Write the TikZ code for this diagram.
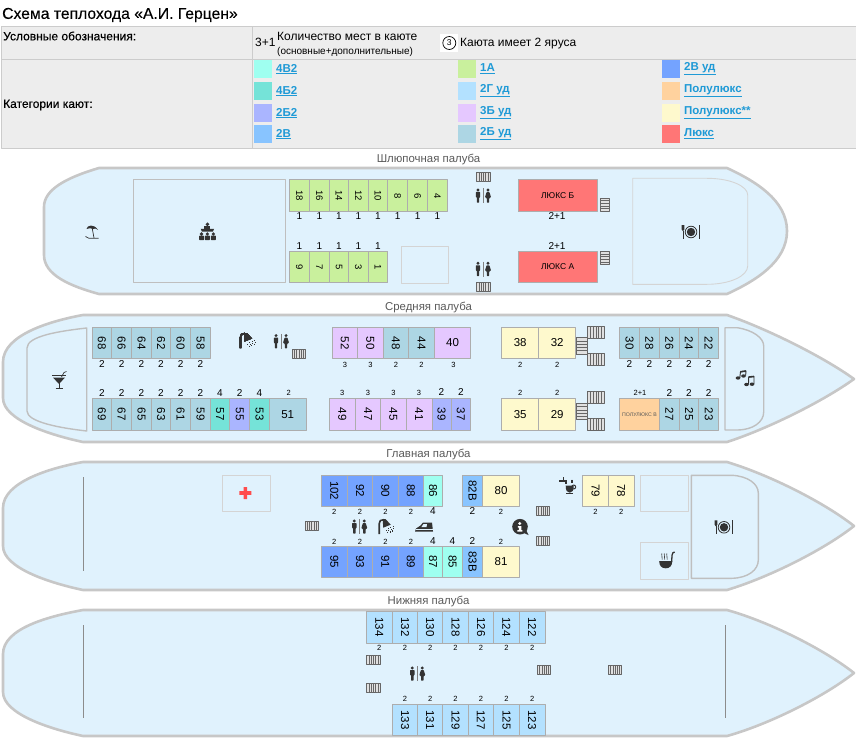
\documentclass[tikz,border=0pt]{standalone}
\usepackage{fontspec}
\setmainfont{Liberation Sans}
\newfontfamily\medfont[FakeBold=0.3]{Liberation Sans}
\definecolor{katFourV}{HTML}{9FFFF0}
\definecolor{katFourB}{HTML}{75E3D8}
\definecolor{katTwoBb}{HTML}{AAB5FF}
\definecolor{katTwoV}{HTML}{88C4FF}
\definecolor{katOneA}{HTML}{C9F09D}
\definecolor{katTwoG}{HTML}{B3E1FF}
\definecolor{katThreeB}{HTML}{E5C8FF}
\definecolor{katTwoB}{HTML}{ADD6E4}
\definecolor{katTwoVu}{HTML}{74A3FF}
\definecolor{katPoly}{HTML}{FFD29E}
\definecolor{katPolyx}{HTML}{FEF9CD}
\definecolor{katLux}{HTML}{FF7676}
\definecolor{deckfill}{HTML}{E0F2FD}
\definecolor{icongray}{HTML}{333333}
\definecolor{linkblue}{HTML}{1F9AD6}
\tikzset{
	hull/.style={draw=black!22,line width=2.6pt,fill=deckfill,line join=round},
	room/.style={draw=black!25,line width=1.4pt,fill=deckfill},
	roomthin/.style={draw=black!17,line width=.9pt},
	cab/.style={draw=black!32,line width=1pt},
	lab/.style={font=\fontsize{11.5}{12}\selectfont,inner sep=0pt},
	cnt/.style={font=\fontsize{10}{10}\selectfont,inner sep=0pt},
	cnts/.style={font=\fontsize{7.5}{8}\selectfont,inner sep=0pt},
	decktitle/.style={font=\fontsize{11.4}{12}\selectfont,text=black!65,inner sep=0pt},
	leg/.style={font=\fontsize{11.5}{12}\bfseries\selectfont,text=linkblue,anchor=west,inner sep=0pt},
	tabtext/.style={font=\fontsize{12}{12}\selectfont,anchor=west,inner sep=0pt},
	tabhead/.style={font=\fontsize{12}{12}\medfont\selectfont,anchor=west,inner sep=0pt},
	stair/.style={draw=black!60,line width=.5pt,fill=black!12},
	wcicon/.pic={
		\draw[black!50,line width=.7pt] (0,-7.5)--(0,7.5);
		\fill[icongray] (-5,-5.7) circle (1.6) (5,-5.7) circle (1.6);
		\fill[icongray,rounded corners=.6pt] (-7.2,-3.7)--(-2.8,-3.7)--(-2.8,1.5)--(-3.8,1.5)--(-3.8,7)--(-6.2,7)--(-6.2,1.5)--(-7.2,1.5)--cycle;
		\fill[icongray,rounded corners=.6pt] (3.6,-3.7)--(6.4,-3.7)--(8,1.5)--(6.2,2.5)--(6.2,7)--(3.8,7)--(3.8,2.5)--(2,1.5)--cycle;
	},
	plateicon/.pic={
		\draw[icongray,line width=.8pt,fill=deckfill] (0,0) circle (5.8);
		\fill[icongray] (0,0) circle (4.2);
		\draw[icongray,line width=1pt] (-8,-1)--(-8,7);
		\fill[icongray] (-9.3,-7)--(-6.7,-7)--(-6.7,-2.5)--(-8,-.8)--(-9.3,-2.5)--cycle;
		\draw[icongray,line width=1.2pt] (8.3,-7)--(8.3,7);
	},
	umbrellaicon/.pic={
		\fill[icongray] (-5.5,-3) .. controls (-5,-7) and (2,-8.5) .. (6,-2) -- (3.5,-3.5) -- (1,-3) -- (-2,-3.8) -- cycle;
		\draw[icongray,line width=.7pt] (0,-5)--(2,6);
		\draw[icongray,line width=.7pt] (-6.5,4.5)--(-3,6.3)--(6.5,6.3);
	},
	meeticon/.pic={
		\fill[icongray] (0,-7.7) circle (1.9);
		\fill[icongray] (-3,-5.7)--(3,-5.7)--(3,-3)--(-3,-3)--cycle;
		\fill[icongray] (-6.7,-3.2)--(6.7,-3.2)--(5.5,-.4)--(-5.5,-.4)--cycle;
		\foreach \px in {-5.9,0,5.9}{
			\fill[icongray] (\px,2) circle (1.8);
			\fill[icongray,rounded corners=.7pt] (\px-2.5,3.6) rectangle (\px+2.5,8.2);
		}
	},
	showericon/.pic={
		\draw[icongray,line width=1.6pt] (-7.5,7.5)--(-7.5,-3) .. controls (-7.5,-6) and (-6,-7) .. (-3,-7);
		\fill[icongray] (-4,-7.5)--(-1,-7.5)--(4,-2)--(-3.5,1)--cycle;
		\foreach \px/\py in {1/1.5,3.5/.3,6/-.7,-1/3,1.5/3,4/2,6.5/1.2,.5/5.5,3/4.7,5.5/3.7}
			\fill[icongray] (\px,\py) rectangle ++(1.1,1.1);
	},
	cocktailicon/.pic={
		\draw[icongray,line width=.7pt] (-7,-4.5)--(7,-4.5);
		\fill[icongray] (-6,-2.5)--(6,-2.5)--(.5,3.5)--(-.5,3.5)--cycle;
		\draw[icongray,line width=.9pt] (0,3)--(0,8) (-3.5,8.3)--(3.5,8.3);
		\draw[icongray,line width=.7pt] (2.5,-3)--(5,-7.5)--(7.5,-8.5);
	},
	musicicon/.pic={
		\fill[icongray] (-7,-1) ellipse (2.3 and 1.7) (-1.5,-3) ellipse (2.3 and 1.7);
		\draw[icongray,line width=.9pt] (-5.2,-1.3)--(-4.5,-7.3)--(1,-8)--(.6,-3.3);
		\draw[icongray,line width=1.6pt] (-4.5,-7.2)--(1,-8);
		\fill[icongray] (1.5,5.5) ellipse (2.3 and 1.7) (7,5.2) ellipse (2.3 and 1.7);
		\draw[icongray,line width=.9pt] (3.5,5)--(3.7,-2)--(9,-2.5)--(9,4.8);
		\draw[icongray,line width=1.6pt] (3.7,-2)--(9,-2.5);
	},
	ironicon/.pic={
		\fill[icongray] (-9,4.5)--(-8,1.5)--(-3.5,-1.5)--(-1,-4.5)--(8,-4.5)--(9,4.5)--cycle;
		\fill[deckfill] (-.5,-3)--(3,-3)--(2.5,0)--(-2.6,0)--cycle;
		\draw[deckfill,line width=.6pt] (-8.5,2.7)--(8.7,2.7);
	},
	infoicon/.pic={
		\fill[icongray] (0,0) circle (7.8);
		\fill[icongray] (3,6)--(8.5,8.3)--(6,3)--cycle;
		\fill[white] (-.3,-3.2) circle (1.6);
		\fill[white] (-2.2,-.7)--(1.3,-.7)--(1.3,3.5)--(2.4,3.5)--(2.4,5)--(-2.6,5)--(-2.6,3.5)--(-1.2,3.5)--(-1.2,.8)--(-2.2,.8)--cycle;
	},
	tapicon/.pic={
		\fill[icongray] (-8.7,-6.2) rectangle (-1,-4);
		\fill[icongray] (-5.2,-8.7) rectangle (-3.5,-4);
		\fill[icongray] (-3,-4) rectangle (-.6,-1.8);
		\fill[icongray] (-2,0) -- (6,0) .. controls (6,5) and (4.5,7) .. (2,7) .. controls (-.5,7) and (-2,5) .. (-2,0) -- cycle;
		\draw[icongray,line width=1pt] (6,1.3) circle (2);
		\fill[icongray] (-2,7.2) rectangle (5,8.3);
		\draw[icongray,line width=.6pt] (3.2,-6)--(3.2,-3) (5,-6)--(5,-3);
	},
	ladleicon/.pic={
		\fill[icongray] (-7.5,1) -- (5.5,1) .. controls (5.5,6) and (3,8.3) .. (-1,8.3) .. controls (-5,8.3) and (-7.5,6) .. (-7.5,1) -- cycle;
		\draw[icongray,line width=1.3pt] (4.9,2) .. controls (5.5,-3) and (4.5,-8) .. (8,-8);
		\draw[icongray,line width=.6pt] (-4.5,-.5) .. controls (-6,-3) and (-3.5,-4) .. (-5,-6.5)
			(-2,-.5) .. controls (-3.5,-3) and (-1,-4) .. (-2.5,-6.5)
			(.5,-.5) .. controls (-1,-3) and (1.5,-4) .. (0,-6.5);
	},
}
% клетка каюты
\newcommand{\cabin}[7]{\draw[cab,fill=#5] (#1,#2) rectangle (#3,#4) node[lab,midway,rotate=#7] (c#6) {#6};}
% решётка с вертикальными и лесенка с горизонтальными планками
\newcommand{\grating}[4]{
	\draw[stair] (#1,#2) rectangle (#3,#4);
	\foreach \i in {1,...,5}\draw[stair] ({#1+(#3-#1)*\i/6},#2)--({#1+(#3-#1)*\i/6},#4);
}
\newcommand{\ladder}[4]{
	\draw[stair] (#1,#2) rectangle (#3,#4);
	\foreach \i in {1,...,4}\draw[stair] (#1,{#2+(#4-#2)*\i/5})--(#3,{#2+(#4-#2)*\i/5});
}
\begin{document}
\begin{tikzpicture}[x=1pt,y=-1pt,line join=round]
	\useasboundingbox (0,0) rectangle (856,738);
	%==Заголовок и таблица
	\node[anchor=west,inner sep=0pt,font=\fontsize{15.7}{16}\medfont\selectfont] (title) at (2,15) {Схема теплохода «А.И. Герцен»};
	\draw[black!20,fill=black!7,line width=.9pt] (1,26.5) rectangle (857,148.5);
	\draw[black!20,line width=.9pt] (1,59.5)--(857,59.5) (252.5,26.5)--(252.5,148.5);
	\node[tabhead] (usl) at (3,36) {Условные обозначения:};
	\node[tabhead] (kat) at (3,105) {Категории кают:};
	\node[tabtext] (mest) at (255,42.5) {3+1};
	\node[tabtext] (kol) at (277,36) {Количество мест в каюте};
	\node[tabtext,font=\fontsize{10}{10}\selectfont] (osn) at (277,51.5) {(основные+дополнительные)};
	\fill[white] (440,34) rectangle (458,52);
	\node[draw,circle,line width=.7pt,minimum size=13pt,inner sep=0pt,font=\fontsize{8.5}{9}\selectfont] (yarus) at (449.3,43) {3};
	\node[tabtext] (yartxt) at (460,44) {Каюта имеет 2 яруса};
	\foreach \c/\t/\x/\y [count=\i] in {katFourV/4В2/254/60,katFourB/4Б2/254/82,katTwoBb/2Б2/254/104,katTwoV/2В/254/125,
		katOneA/1А/458/60,katTwoG/2Г уд/458/82,katThreeB/3Б уд/458/104,katTwoB/2Б уд/458/125,
		katTwoVu/2В уд/662/60,katPoly/Полулюкс/662/82,katPolyx/Полулюкс**/662/104,katLux/Люкс/662/125}{
		\fill[\c] (\x,\y) rectangle ++(18,18);
		\node[leg] (leg\i) at (\x+22,\y+9) {\underline{\t}};
	}
	%==Шлюпочная палуба
	\node[decktitle] (d1) at (428.5,159.3) {Шлюпочная палуба};
	\draw[hull] (99,168)--(727,168) .. controls (755,181) and (787,200) .. (787,231) .. controls (787,262) and (755,281) .. (727,294)
		--(99,294) .. controls (70,286) and (44,275) .. (44,255)--(44,207) .. controls (44,190) and (65,178) .. (99,168)--cycle;
	\draw[room] (133.5,179.5) rectangle (285.5,282.5);
	\draw[roomthin] (401.3,246.3) rectangle (448.3,283.7);
	\draw[roomthin] (632.7,178.3)--(707,178.3) .. controls (730,178.3) and (747.7,186) .. (747.7,195)--(747.7,266) .. controls (747.7,276) and (730,284.3) .. (707,284.3)--(632.7,284.3)--cycle;
	\begin{scope}[lab/.append style={font=\fontsize{9.5}{10}\selectfont}]
		\foreach \n/\a/\b in {18/289.3/309.3,16/309.3/329.3,14/329.3/348.7,12/348.7/368.3,10/368.3/387.7,8/387.7/407.7,6/407.7/427.7,4/427.7/447.3}{
			\cabin{\a}{180}{\b}{211.7}{katOneA}{\n}{-90}
			\node[cnt] (k\n) at ({(\a+\b)/2},216) {1};
		}
		\foreach \n/\a/\b in {9/289.3/309.3,7/309.3/329.3,5/329.3/348.7,3/348.7/368.3,1/368.3/387.7}{
			\cabin{\a}{251}{\b}{282.7}{katOneA}{\n}{-90}
			\node[cnt] (k\n) at ({(\a+\b)/2},245.7) {1};
		}
		\draw[cab,fill=katLux] (518,179.7) rectangle (597.3,211.7) node[lab,midway,font=\fontsize{8.5}{9}\selectfont] (luxb) {ЛЮКС Б};
		\draw[cab,fill=katLux] (518,251) rectangle (597.3,282.7) node[lab,midway,font=\fontsize{8.5}{9}\selectfont] (luxa) {ЛЮКС А};
	\end{scope}
	\node[cnt] (kb) at (557,216) {2+1};
	\node[cnt] (ka) at (557,245.7) {2+1};
	\grating{476.7}{172.7}{490}{181.3}
	\grating{476.7}{282.3}{490}{291}
	\ladder{600}{198}{609}{211.3}
	\ladder{600}{251.3}{609}{264.7}
	\pic at (483,195.7) {wcicon};
	\pic at (483,269) {wcicon};
	\pic at (691,232) {plateicon};
	\pic at (92,232) {umbrellaicon};
	\pic at (207.4,232) {meeticon};
	%==Средняя палуба
	\node[decktitle] (d2) at (428.5,307.3) {Средняя палуба};
	\draw[hull] (83,315)--(727,315) .. controls (770,330) and (825,358) .. (854,379) .. controls (825,400) and (770,428) .. (727,442)
		--(83,442) .. controls (50,435) and (3,420) .. (3,398)--(3,362) .. controls (3,335) and (50,321) .. (83,315)--cycle;
	\draw[room] (86.7,328) .. controls (60,331) and (27,336) .. (27,348)--(27,411) .. controls (27,422) and (60,428) .. (86.7,431)--cycle;
	\draw[room] (725,327.7)--(737,327.7) .. controls (753,330) and (763.7,338) .. (763.7,346)--(763.7,412) .. controls (763.7,422) and (753,430) .. (737,430)--(725,430)--cycle;
	\foreach \n/\a/\b in {68/92/111.7,66/111.7/131.7,64/131.7/151.3,62/151.3/170.7,60/170.7/190.7,58/190.7/210.3,
		30/619.7/639.3,28/639.3/659.3,26/659.3/679.3,24/679.3/698.7,22/698.7/718.7}{
		\cabin{\a}{327.3}{\b}{358.7}{katTwoB}{\n}{-90}
		\node[cnt] (k\n) at ({(\a+\b)/2},364) {2};
	}
	\foreach \n/\a/\b in {69/92/111.7,67/111.7/131.7,65/131.7/151.3,63/151.3/170.7,61/170.7/190.7,59/190.7/210.3,
		27/659.3/679.3,25/679.3/698.7,23/698.7/718.7}{
		\cabin{\a}{398.7}{\b}{430}{katTwoB}{\n}{-90}
		\node[cnt] (k\n) at ({(\a+\b)/2},392.7) {2};
	}
	\cabin{210.3}{398.7}{229.7}{430}{katFourB}{57}{-90}
	\cabin{229.7}{398.7}{249.7}{430}{katTwoBb}{55}{-90}
	\cabin{249.7}{398.7}{269.3}{430}{katFourB}{53}{-90}
	\cabin{269.3}{398.7}{306}{430}{katTwoB}{51}{0}
	\node[cnt] (k57) at (220,392.7) {4};
	\node[cnt] (k55) at (239.7,392.7) {2};
	\node[cnt] (k53) at (259.5,392.7) {4};
	\node[cnts] (k51) at (288.7,393.3) {2};
	\foreach \n/\a/\b in {52/332/357.7,50/357.7/383}{
		\cabin{\a}{327.3}{\b}{358.7}{katThreeB}{\n}{-90}
		\node[cnts] (k\n) at ({(\a+\b)/2},364.7) {3};
	}
	\foreach \n/\a/\b in {48/383/408.7,44/408.7/434.3}{
		\cabin{\a}{327.3}{\b}{358.7}{katTwoB}{\n}{-90}
		\node[cnts] (k\n) at ({(\a+\b)/2},364.7) {2};
	}
	\cabin{434.3}{327.3}{470.7}{358.7}{katThreeB}{40}{0}
	\node[cnts] (k40) at (453.5,364.7) {3};
	\foreach \n/\a/\b in {49/329.3/355.3,47/355.3/380.7,45/380.7/406,41/406/432}{
		\cabin{\a}{398.7}{\b}{430}{katThreeB}{\n}{-90}
		\node[cnts] (k\n) at ({(\a+\b)/2},393.3) {3};
	}
	\foreach \n/\a/\b in {39/432/451,37/451/470.7}{
		\cabin{\a}{398.7}{\b}{430}{katTwoBb}{\n}{-90}
		\node[cnt] (k\n) at ({(\a+\b)/2},392) {2};
	}
	\foreach \n/\a/\b in {38/501.7/538.7,32/538.7/575.7}{
		\cabin{\a}{327.3}{\b}{358.7}{katPolyx}{\n}{0}
		\node[cnts] (k\n) at ({(\a+\b)/2},364.7) {2};
	}
	\foreach \n/\a/\b in {35/501.7/538.7,29/538.7/575.7}{
		\cabin{\a}{398.7}{\b}{430}{katPolyx}{\n}{0}
		\node[cnts] (k\n) at ({(\a+\b)/2},393.3) {2};
	}
	\draw[cab,fill=katPoly] (619.7,398.7) rectangle (659.3,430) node[lab,midway,font=\fontsize{5.2}{6}\selectfont,text=black!65] (polyv) {ПОЛУЛЮКС В};
	\node[cnts] (kpv) at (640,393.3) {2+1};
	\grating{292}{349}{305.7}{358.3}
	\foreach \y in {326.7,353.3,391.3,418.3}\grating{587.3}{\y}{604.3}{\y+11.6}
	\foreach \y in {337.7,403.3}\ladder{576.3}{\y}{587.3}{\y+16.2}
	\pic at (248,340.5) {showericon};
	\pic at (281,341.3) {wcicon};
	\pic at (59,380) {cocktailicon};
	\pic at (745,379) {musicicon};
	%==Главная палуба
	\node[decktitle] (d3) at (428.5,454.3) {Главная палуба};
	\draw[hull] (83,462)--(727,462) .. controls (770,475) and (825,503) .. (854,526) .. controls (825,549) and (770,577) .. (727,590)
		--(83,590) .. controls (50,583) and (3,568) .. (3,546)--(3,508) .. controls (3,482) and (50,468) .. (83,462)--cycle;
	\draw[black!45,line width=1.4pt] (83.7,477.3)--(83.7,570.7);
	\draw[roomthin] (222.7,475.3) rectangle (270,511.7);
	\draw[roomthin] (640.3,475.3) rectangle (688.3,511.7);
	\draw[roomthin] (640.3,542.3) rectangle (688.3,579);
	\draw[room] (691.3,475.3)--(731.7,475.3) .. controls (748,476) and (758.3,484) .. (758.3,493)--(758.3,560) .. controls (758.3,570) and (748,578) .. (731.7,578.3)--(691.3,578.3)--cycle;
	\fill[red!70!white] (239.3,491.2) rectangle (251.3,494.8) (243.5,487) rectangle (247.1,499);
	\foreach \n/\a/\b in {102/321.3/347.3,92/347.3/372.7,90/372.7/398,88/398/423.7}{
		\cabin{\a}{475}{\b}{506.3}{katTwoVu}{\n}{-90}
		\node[cnts] (k\n) at ({(\a+\b)/2},511.7) {2};
	}
	\foreach \n/\a/\b in {95/321.3/347.3,93/347.3/372.7,91/372.7/398,89/398/423.7}{
		\cabin{\a}{546}{\b}{577.3}{katTwoVu}{\n}{-90}
		\node[cnts] (k\n) at ({(\a+\b)/2},541.7) {2};
	}
	\cabin{423.7}{475}{442.7}{506.3}{katFourV}{86}{-90}
	\node[cnt] (k86) at (433,511) {4};
	\cabin{423.7}{546}{442.7}{577.3}{katFourV}{87}{-90}
	\node[cnt] (k87) at (433,541) {4};
	\cabin{442.7}{546}{462.3}{577.3}{katFourV}{85}{-90}
	\node[cnt] (k85) at (452.5,541) {4};
	\cabin{462.3}{475}{482.7}{506.3}{katTwoV}{82В}{-90}
	\node[cnt] (k82) at (472.5,511) {2};
	\cabin{462.3}{546}{482.7}{577.3}{katTwoV}{83В}{-90}
	\node[cnt] (k83) at (472.5,541) {2};
	\cabin{482.7}{475}{519.3}{506.3}{katPolyx}{80}{0}
	\node[cnts] (k80) at (501,511.7) {2};
	\cabin{482.7}{546}{519.3}{577.3}{katPolyx}{81}{0}
	\node[cnts] (k81) at (501,541.7) {2};
	\foreach \n/\a/\b in {79/582.7/608.3,78/608.3/634}{
		\cabin{\a}{475}{\b}{506.3}{katPolyx}{\n}{-90}
		\node[cnts] (k\n) at ({(\a+\b)/2},511.7) {2};
	}
	\grating{305}{521}{318.3}{530.3}
	\grating{536.3}{506.7}{549.7}{515.7}
	\grating{536.3}{536.7}{549.7}{545.7}
	\pic at (359.3,526.7) {wcicon};
	\pic at (386.7,526.7) {showericon};
	\pic at (424,527) {ironicon};
	\pic at (520,526.7) {infoicon};
	\pic at (567.7,485.7) {tapicon};
	\pic at (666.7,560) {ladleicon};
	\pic at (724,527.3) {plateicon};
	%==Нижняя палуба
	\node[decktitle] (d4) at (428.5,601.3) {Нижняя палуба};
	\draw[hull] (83,610)--(727,610) .. controls (770,622) and (825,650) .. (854,673) .. controls (825,696) and (770,724) .. (727,736)
		--(83,736) .. controls (50,729) and (3,714) .. (3,692)--(3,654) .. controls (3,628) and (50,616) .. (83,610)--cycle;
	\draw[black!45,line width=1.4pt] (83.7,625)--(83.7,718.3);
	\draw[black!45,line width=1.4pt] (725.7,625)--(725.7,718.3);
	\foreach \n/\a/\b in {134/366.3/392.3,132/392.3/417.7,130/417.7/442.7,128/442.7/468.3,126/468.3/493.7,124/493.7/519.3,122/519.3/545}{
		\cabin{\a}{611.3}{\b}{643}{katTwoG}{\n}{-90}
		\node[cnts] (k\n) at ({(\a+\b)/2},648.3) {2};
	}
	\foreach \n/\a/\b in {133/392.3/417.7,131/417.7/442.7,129/442.7/468.3,127/468.3/493.7,125/493.7/519.3,123/519.3/545}{
		\cabin{\a}{704}{\b}{735.7}{katTwoG}{\n}{-90}
		\node[cnts] (k\n) at ({(\a+\b)/2},699.3) {2};
	}
	\grating{366.7}{655}{380}{664}
	\grating{366.7}{683.7}{380}{692.7}
	\grating{537.3}{665.3}{550.7}{674.3}
	\grating{608.3}{665.3}{621.7}{674.3}
	\pic at (417.3,673.7) {wcicon};
\end{tikzpicture}
\end{document}
